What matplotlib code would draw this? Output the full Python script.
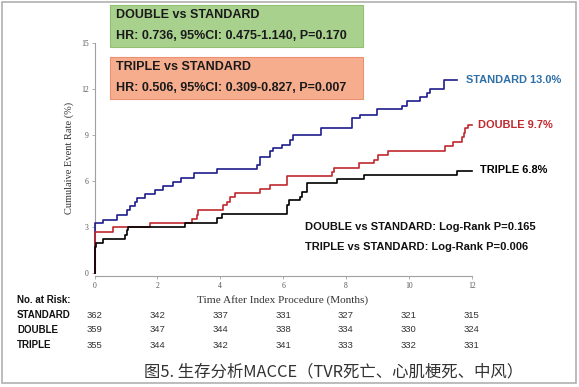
import matplotlib
matplotlib.use('Agg')
import matplotlib.pyplot as plt
from matplotlib.patches import Rectangle
import matplotlib.transforms as mtransforms

# Kaplan-Meier steps: (month, cumulative event rate %)
std_t = [0, 0.001, 0.28, 0.71, 1.02, 1.13, 1.29, 1.36, 1.61, 1.91, 2.19, 2.51, 2.75, 3.15, 3.89,
         5.17, 5.27, 5.59, 5.68, 5.96, 6.22, 6.33, 7.2, 8.19, 8.46, 8.99, 9.78, 9.94, 10.37,
         10.58, 10.68, 11.11, 11.53]
std_y = [0, 3.26, 3.48, 3.82, 4.13, 4.39, 4.67, 4.89, 5.17, 5.45, 5.72, 5.95, 6.2, 6.52, 6.8,
         7.07, 7.61, 8.0, 8.15, 8.4, 8.7, 9.0, 9.5, 10.1, 10.35, 10.7, 10.91, 11.25, 11.48,
         11.78, 12.05, 12.6, 12.6]

dbl_t = [0, 0.001, 0.6, 1.77, 3.09, 3.25, 3.3, 4.1, 4.2, 4.3, 4.47, 5.27, 5.59, 6.13, 7.55,
         7.62, 8.4, 8.88, 9.03, 9.35, 11.16, 11.42, 11.69, 11.75, 11.8, 11.88, 12.0]
dbl_y = [0, 2.71, 3.0, 3.3, 3.52, 3.82, 4.1, 4.45, 4.67, 4.96, 5.22, 5.48, 5.76, 6.35, 6.63,
         6.88, 7.17, 7.39, 7.72, 8.0, 8.3, 8.58, 8.91, 9.17, 9.46, 9.67, 9.67]

tri_t = [0, 0.001, 0.05, 0.28, 0.97, 1.03, 1.08, 2.88, 3.89, 4.05, 6.13, 6.2, 6.55, 6.6, 6.76,
         7.71, 8.56, 11.53, 12.0]
tri_y = [0, 1.7, 1.96, 2.22, 2.5, 2.82, 3.04, 3.3, 3.6, 3.9, 4.45, 4.78, 5.0, 5.32, 5.87,
         6.15, 6.41, 6.69, 6.69]

risk_months = [0, 2, 4, 6, 8, 10, 12]
risk_groups = ['STANDARD', 'DOUBLE', 'TRIPLE']
risk_std = [362, 342, 337, 331, 327, 321, 315]
risk_dbl = [359, 347, 344, 338, 334, 330, 324]
risk_tri = [355, 344, 342, 341, 333, 332, 331]

W, H = 579, 387
fig = plt.figure(figsize=(W / 100, H / 100), dpi=100)
fig.patch.set_facecolor('white')

def px(x, y):
    return x / W, 1 - y / H

# outer grey frame
fig.patches.append(Rectangle(px(2, 383), 574 / W, 381 / H, transform=fig.transFigure,
                             fill=False, edgecolor='#b0b0b0', lw=1.2))

x0, y0 = px(94.5, 273.3)
x1, y1 = px(471.7, 43.3)
ax = fig.add_axes([x0, y0, x1 - x0, y1 - y0])
ax.set_xlim(0, 12)
ax.set_ylim(0, 15)
ax.set_facecolor('white')

ax.step(std_t, std_y, where='post', color='#1e1e8c', lw=1.2, zorder=3, clip_on=False)
ax.step(dbl_t, dbl_y, where='post', color='#c0282d', lw=1.2, zorder=4, clip_on=False)
ax.step(tri_t, tri_y, where='post', color='black', lw=1.2, zorder=5, clip_on=False)

for s in ['top', 'right']:
    ax.spines[s].set_visible(False)
ax.spines['left'].set_color('#a0a0a0')
ax.spines['bottom'].set_color('#a0a0a0')
ax.spines['bottom'].set_position(('outward', 2))
ax.set_xticks(risk_months)
ax.set_yticks([0, 3, 6, 9, 12, 15])
ax.tick_params(axis='both', length=2, width=0.6, color='#a0a0a0', labelsize=5.5,
               labelcolor='#555555', pad=2)
for lab in ax.get_xticklabels() + ax.get_yticklabels():
    lab.set_family('Liberation Serif')

ax.set_ylabel('Cumulaive Event Rate (%)', family='Liberation Serif', fontsize=7.5,
              color='#333333', labelpad=5)

# HR boxes
boxes = [((110, 5, 363, 47), '#a9d18e', '#90c070', 'DOUBLE vs STANDARD',
          'HR: 0.736, 95%CI: 0.475-1.140, P=0.170'),
         ((110, 57, 363, 99), '#f6ad8e', '#eb9070', 'TRIPLE vs STANDARD',
          'HR: 0.506, 95%CI: 0.309-0.827, P=0.007')]
for (bx0, by0, bx1, by1), fc, ec, t1, t2 in boxes:
    fig.patches.append(Rectangle(px(bx0, by1), (bx1 - bx0) / W, (by1 - by0) / H,
                                 transform=fig.transFigure, facecolor=fc, edgecolor=ec, lw=0.8))
    fig.text(*px(116, by0 + 10.5), t1, fontsize=9, weight='bold', family='Liberation Sans',
             color='#1a1a1a', va='center')
    fig.text(*px(116, by0 + 31), t2, fontsize=9, weight='bold', family='Liberation Sans',
             color='#1a1a1a', va='center')

# curve labels
fig.text(*px(466, 80), 'STANDARD 13.0%', fontsize=7.9, weight='bold', family='Liberation Sans',
         color='#2e6fa7', va='center')
fig.text(*px(478, 125), 'DOUBLE 9.7%', fontsize=7.9, weight='bold', family='Liberation Sans',
         color='#c0282d', va='center')
fig.text(*px(480, 170), 'TRIPLE 6.8%', fontsize=7.9, weight='bold', family='Liberation Sans',
         color='black', va='center')

fig.text(*px(305, 227), 'DOUBLE vs STANDARD: Log-Rank P=0.165', fontsize=8, weight='bold',
         family='Liberation Sans', color='#111111', va='center')
fig.text(*px(305, 247), 'TRIPLE vs STANDARD: Log-Rank P=0.006', fontsize=8, weight='bold',
         family='Liberation Sans', color='#111111', va='center')

# x label and risk table
fig.text(*px(283, 300), 'Time After Index Procedure (Months)', family='Liberation Serif',
         fontsize=8.1, color='#333333', ha='center', va='center')
fig.text(*px(17, 300), 'No. at Risk:', fontsize=7, weight='bold', family='Liberation Sans',
         color='#111111', va='center')
trans = mtransforms.blended_transform_factory(ax.transData, fig.transFigure)
for i, (name, vals) in enumerate(zip(risk_groups, [risk_std, risk_dbl, risk_tri])):
    yy = 1 - (315 + 15 * i) / H
    fig.text(17 / W, yy, name, fontsize=7, weight='bold', family='Liberation Sans',
             color='#111111', va='center')
    for m, v in zip(risk_months, vals):
        ax.text(m, yy, str(v), transform=trans, fontsize=6.8, family='Liberation Sans',
                color='#333333', ha='center', va='center', clip_on=False)

fig.text(*px(334, 372), '图5. 生存分析MACCE（TVR死亡、心肌梗死、中风）',
         family=['Noto Sans CJK SC', 'DejaVu Sans'], fontsize=11.8, color='#333333',
         ha='center', va='center')

fig.savefig('out.png', dpi=100, facecolor='white')
